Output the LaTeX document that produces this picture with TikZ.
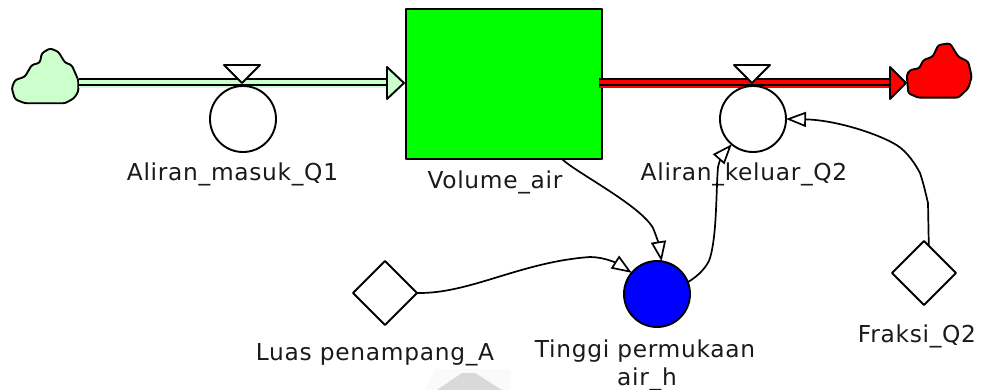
\documentclass[tikz,border=0pt]{standalone}
\usepackage{fontspec}
\setmainfont[LetterSpace=3]{DejaVu Sans}
\usetikzlibrary{arrows.meta,shapes.geometric,calc}
\definecolor{lgreen}{HTML}{CCFFCC}
\definecolor{pure}{HTML}{00FF00}
\definecolor{pblue}{HTML}{0000FF}
\definecolor{pred}{HTML}{FF0000}
\definecolor{txt}{HTML}{1A1A1A}
\tikzset{
  outline/.style={draw=black,line width=1.9pt,line join=round},
  conv/.style={outline,circle,fill=white,minimum size=66pt,inner sep=0pt,outer sep=0pt},
  aux/.style={outline,circle,fill=pblue,minimum size=66pt,inner sep=0pt,outer sep=0pt},
  const/.style={outline,diamond,aspect=1,fill=white,minimum size=64pt,inner sep=0pt,outer sep=0pt},
  stockbox/.style={outline,rectangle,fill=pure,minimum width=196pt,minimum height=150pt,inner sep=0pt,outer sep=0pt},
  lab/.style={text=txt,font=\fontsize{23.3}{28}\selectfont,anchor=base,inner sep=0pt,align=center},
  conn/.style={draw=black,line width=1.7pt,-{Triangle[open,fill=white,length=20pt,width=15pt,line width=1.7pt]}},
  pipeband/.style={line width=10pt},
  pipeline/.style={draw=black,line width=2pt}
}
\begin{document}
\begin{tikzpicture}[x=1pt,y=-1pt]
\useasboundingbox (0,0) rectangle (983,390);
% faint mark at the bottom
\fill[black!2] (425,390) -- (435,369) -- (510,369) -- (510,390) -- cycle;
\fill[black!15] (437,390) -- (462,373) -- (475,373) -- (502,390) -- cycle;

\coordinate (srcE) at (79,83);
\coordinate (headL) at (388,83);
\coordinate (pipeR) at (599,83);
\coordinate (headR) at (891,83);

% labels
\node[lab] (l1) at (232.5,181) {Aliran\_masuk\_Q1};
\node[lab] (l2) at (495,189) {Volume\_air};
\node[lab] (l3) at (744,181) {Aliran\_keluar\_Q2};
\node[lab] (l4) at (375,360) {Luas penampang\_A};
\node[lab] (l5) at (645,357) {Tinggi permukaan};
\node[lab] (l6) at (647,385) {air\_h};
\node[lab] (l7) at (917,342) {Fraksi\_Q2};

% stock
\node[stockbox] (stock) at (504,84) {};

% inflow
\draw[outline,fill=lgreen,rounded corners=2.5pt] (11.7,88.3) -- (15,80) -- (25,76.7) -- (31.7,65) -- (40,62.7) -- (41.7,53.3) -- (50,48.3) -- (58.3,51.7) -- (65,62.7) -- (71.7,65) -- (78.3,80) -- (78.3,91.7) -- (74,98.3) -- (65,103.3) -- (25,103.3) -- (15,99.3) -- cycle;
\draw[lgreen,pipeband] (srcE) -- (headL);
\draw[pipeline] ([yshift=4pt]srcE) -- ([yshift=4pt]headL);
\draw[pipeline] ([yshift=-2pt]srcE) -- ([yshift=-2pt]headL);
\draw[outline,fill=lgreen] (387,67) -- (404,83) -- (387,99) -- cycle;

% outflow
\draw[outline,fill=pred,rounded corners=2.5pt] (906.7,75) -- (910,70) -- (919.3,68.3) -- (923.3,60) -- (932.7,56.7) -- (938.3,45) -- (950,43.3) -- (958.3,56.7) -- (968.3,61.7) -- (971.7,76.7) -- (968.3,88.3) -- (958.3,97.7) -- (918.3,97.7) -- (908.3,93.3) -- cycle;
\draw[pred,pipeband] (pipeR) -- (headR);
\draw[pipeline] ([yshift=4pt]pipeR) -- ([yshift=4pt]headR);
\draw[pipeline] ([yshift=-2pt]pipeR) -- ([yshift=-2pt]headR);
\draw[outline,fill=pred] (890,67) -- (906,83) -- (890,99) -- cycle;

% converters and valves
\node[conv] (masuk) at (243,119) {};
\node[conv] (keluar) at (753,119) {};
\draw[outline,fill=white] (224,65) -- (260,65) -- (242,83) -- cycle;
\draw[outline,fill=white] (734,65) -- (770,65) -- (752,83) -- cycle;
\node[aux] (tinggi) at (657,294) {};
\node[const] (luas) at (385,293) {};
\node[const] (fraksi) at (924,273) {};

% connectors
\draw[conn] ($(stock.south west)!0.796!(stock.south east)$) .. controls (575,172) and (640,205) .. (653,228) .. controls (656,235) and (659,245) .. (tinggi.82);
\draw[conn] (luas.east) .. controls (470,294) and (520,262) .. (590,257) .. controls (605,257) and (618,264) .. (tinggi.140);
\draw[conn] (tinggi.21) .. controls (700,275) and (708,265) .. (710,258) .. controls (717,235) and (716,190) .. (718,167) .. controls (719,160) and (725,152) .. (keluar.230);
\draw[conn] (fraksi.80) -- (928,203) .. controls (926,195) and (924,185) .. (920,173) .. controls (912,158) and (903,148) .. (893,143) .. controls (875,133) and (835,120) .. (keluar.0);
\end{tikzpicture}
\end{document}
